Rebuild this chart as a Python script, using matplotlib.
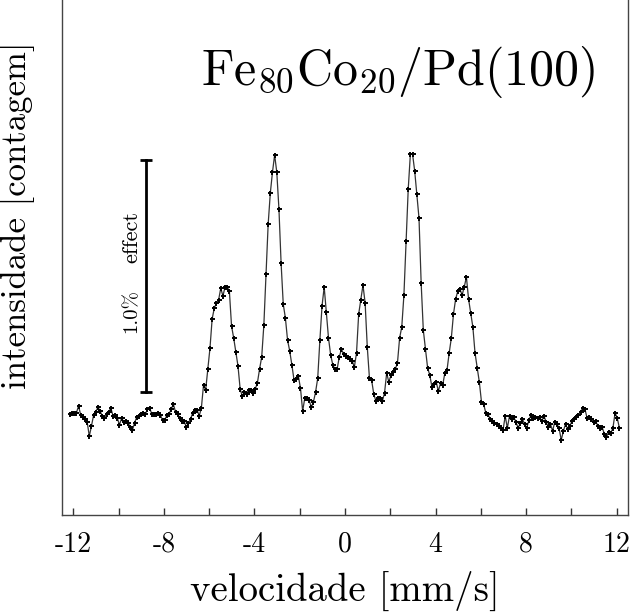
import numpy as np
import matplotlib
matplotlib.use("Agg")
import matplotlib.pyplot as plt

plt.rcParams['mathtext.fontset'] = 'cm'
plt.rcParams['font.family'] = ['cmr10', 'DejaVu Serif']
plt.rcParams['axes.unicode_minus'] = False

# Mossbauer spectrum: 256 channels, effect in % relative to baseline
v_min, v_max, n_ch = -12.15, 12.12, 256
effect = [
    0.004, 0.009, 0.009, 0.009, 0.039, 0.000, -0.009, -0.017, -0.030, -0.091,
    -0.047, 0.000, 0.013, 0.034, 0.017, -0.004, -0.013, 0.004, 0.013, 0.030,
    -0.004, 0.000, -0.013, -0.043, -0.013, -0.030, -0.026, -0.034, -0.052, -0.065,
    -0.034, -0.009, -0.004, 0.004, 0.009, 0.004, 0.026, 0.030, 0.004, 0.004,
    0.004, 0.009, 0.000, -0.022, -0.022, 0.000, 0.004, 0.026, 0.047, 0.013,
    0.004, -0.013, -0.026, -0.026, -0.052, -0.034, -0.017, 0.009, 0.022, 0.022,
    -0.004, 0.030, 0.129, 0.108, 0.198, 0.289, 0.414, 0.461, 0.483, 0.496,
    0.547, 0.513, 0.552, 0.552, 0.534, 0.384, 0.332, 0.272, 0.211, 0.112,
    0.082, 0.099, 0.091, 0.108, 0.108, 0.095, 0.112, 0.138, 0.198, 0.250,
    0.388, 0.608, 0.823, 0.957, 1.047, 1.121, 1.047, 0.888, 0.655, 0.478,
    0.418, 0.323, 0.276, 0.216, 0.151, 0.155, 0.168, 0.116, 0.017, 0.073,
    0.073, 0.065, 0.034, 0.056, 0.099, 0.159, 0.323, 0.470, 0.552, 0.444,
    0.332, 0.259, 0.216, 0.198, 0.198, 0.250, 0.284, 0.263, 0.254, 0.250,
    0.241, 0.233, 0.207, 0.267, 0.435, 0.496, 0.560, 0.483, 0.293, 0.159,
    0.151, 0.091, 0.060, 0.073, 0.073, 0.060, 0.095, 0.181, 0.142, 0.172,
    0.185, 0.198, 0.224, 0.332, 0.379, 0.517, 0.750, 0.974, 1.125, 1.125,
    1.052, 0.953, 0.849, 0.569, 0.366, 0.284, 0.203, 0.172, 0.121, 0.134,
    0.142, 0.103, 0.138, 0.129, 0.181, 0.194, 0.267, 0.332, 0.435, 0.500,
    0.534, 0.543, 0.517, 0.552, 0.595, 0.500, 0.440, 0.379, 0.267, 0.203,
    0.142, 0.056, 0.047, 0.009, 0.004, -0.017, -0.026, -0.034, -0.039, -0.047,
    -0.056, -0.065, -0.004, -0.056, -0.004, -0.017, -0.009, -0.030, -0.056, -0.034,
    -0.017, -0.039, -0.056, -0.022, 0.000, -0.013, -0.009, -0.013, -0.009, -0.026,
    -0.004, -0.030, -0.052, -0.039, -0.069, -0.030, -0.039, -0.056, -0.108, -0.069,
    -0.039, -0.060, -0.047, -0.026, -0.017, -0.009, 0.000, 0.013, 0.030, 0.026,
    -0.013, -0.009, -0.017, -0.030, -0.026, -0.047, -0.056, -0.052, -0.082, -0.095,
    -0.073, -0.078, -0.056, 0.009, -0.013, -0.056,
]
velocity = np.linspace(v_min, v_max, n_ch)

tick_vals = [-12, -8, -4, 0, 4, 8, 12]
tick_labels = ['-12', '-8', '-4', '0', '4', '8', '12']
minor_vals = [-10, -6, -2, 2, 6, 10]

bar_x = -8.77
bar_bottom, bar_size = 0.10, 1.0

fig = plt.figure(figsize=(6.34, 6.12), dpi=100)
ax = fig.add_axes([62/634, 1 - 515/612, 566/634, 515/612])

ax.plot(velocity, effect, color='#333333', lw=0.9, marker='+', ms=3.6,
        mew=1.4, mec='black', zorder=3)

# effect scale bar
ax.plot([bar_x, bar_x], [bar_bottom, bar_bottom + bar_size], color='black',
        lw=2.0, marker='_', ms=9, mew=2.0)
ax.text(-9.43, 0.448, '1.0%', rotation=90,
        ha='center', va='center', fontsize=15)
ax.text(-9.43, 0.767, 'effect', rotation=90,
        ha='center', va='center', fontsize=16)

ax.text(0.594, 0.860, r'$\mathrm{Fe}_{80}\mathrm{Co}_{20}/\mathrm{Pd}(100)$',
        transform=ax.transAxes, ha='center', va='center', fontsize=36)

ax.set_xlim(-12.5, 12.5)
ax.set_ylim(-0.431, 1.789)
ax.set_xticks(tick_vals)
ax.set_xticklabels(tick_labels, fontsize=20)
ax.set_xticks(minor_vals, minor=True)
ax.tick_params(axis='x', which='both', direction='in', length=5, width=1,
               top=False, pad=12, colors='#333333', labelcolor='black')
ax.set_yticks([])
ax.spines['top'].set_visible(False)
for s in ['left', 'right', 'bottom']:
    ax.spines[s].set_color('#444444')
    ax.spines[s].set_linewidth(1.0)

ax.set_xlabel('velocidade [mm/s]', fontsize=28, labelpad=9)
ax.set_ylabel('intensidade [contagem]', fontsize=25)
ax.yaxis.set_label_coords(-0.047, 0.583)

fig.savefig('out.png', dpi=100)
